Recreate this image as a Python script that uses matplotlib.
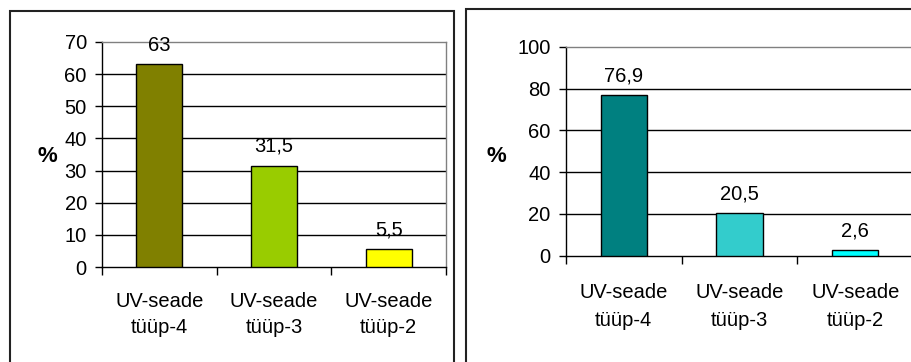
import matplotlib.pyplot as plt
from matplotlib.patches import Rectangle

plt.rcParams['font.family'] = ['Liberation Sans', 'DejaVu Sans']
plt.rcParams['font.size'] = 14.5

# andmed
categories = ['UV-seade\ntüüp-4', 'UV-seade\ntüüp-3', 'UV-seade\ntüüp-2']
left_values = [63, 31.5, 5.5]
right_values = [76.9, 20.5, 2.6]
left_colors = ['#808000', '#99CC00', '#FFFF00']
right_colors = ['#008080', '#33CCCC', '#00FFFF']
left_yticks = [0, 10, 20, 30, 40, 50, 60, 70]
right_yticks = [0, 20, 40, 60, 80, 100]


def fmt(v):
    if float(v).is_integer():
        return str(int(v))
    return str(v).replace('.', ',')


def bar_panel(ax, values, colors, yticks, xpad, lsp):
    x = range(len(values))
    ax.bar(x, values, width=0.4, color=colors, edgecolor='black', linewidth=1, zorder=3)
    ax.set_xlim(-0.5, len(values) - 0.5)
    ax.set_ylim(yticks[0], yticks[-1])
    ax.set_yticks(yticks)
    for t in yticks[1:-1]:
        ax.axhline(t, color='black', linewidth=1, zorder=1)
    ax.set_xticks(list(x))
    ax.set_xticklabels(categories, linespacing=lsp)
    ax.set_xticks([i - 0.5 for i in range(len(values) + 1)], minor=True)
    ax.tick_params(axis='x', which='major', length=0, pad=xpad)
    ax.tick_params(axis='x', which='minor', length=6, width=1, color='black')
    ax.tick_params(axis='y', length=5, width=1, pad=6)
    ax.spines['left'].set_color('black')
    ax.spines['bottom'].set_color('black')
    ax.spines['top'].set_color('#808080')
    ax.spines['right'].set_color('#808080')
    for s in ax.spines.values():
        s.set_linewidth(1)
    for i, v in enumerate(values):
        ax.annotate(fmt(v), (i, v), xytext=(0, 10), textcoords='offset points',
                    ha='center', va='baseline')


fig = plt.figure(figsize=(9.11, 3.62), dpi=100)

ax1 = fig.add_axes([0.112, 0.2624, 0.3776, 0.6216])
bar_panel(ax1, left_values, left_colors, left_yticks, 18, 1.45)
fig.text(47 / 911, 1 - 157 / 362, '%', fontsize=16, fontweight='bold', ha='center', va='center')

ax2 = fig.add_axes([0.6213, 0.2936, 0.381, 0.5766])
bar_panel(ax2, right_values, right_colors, right_yticks, 20, 1.6)
fig.text(496 / 911, 1 - 157 / 362, '%', fontsize=16, fontweight='bold', ha='center', va='center')

# paneelide raamid
fig.add_artist(Rectangle((10 / 911, -0.05), 444 / 911, 1.05 - 11 / 362,
                         transform=fig.transFigure, fill=False, edgecolor='#222222', linewidth=1.5))
fig.add_artist(Rectangle((466 / 911, -0.05), 460 / 911, 1.05 - 9 / 362,
                         transform=fig.transFigure, fill=False, edgecolor='#222222', linewidth=1.5))

fig.savefig('out.png', dpi=100)
